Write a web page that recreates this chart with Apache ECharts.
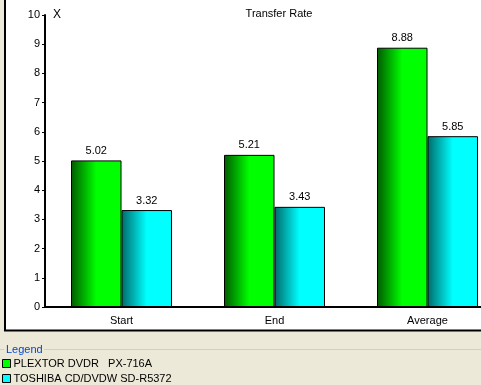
<!DOCTYPE html>
<html><head><meta charset="utf-8">
<script src="https://cdn.jsdelivr.net/npm/echarts@6/dist/echarts.min.js"></script>
<style>html,body{margin:0;padding:0;background:#ECE9D8}#c{width:481px;height:385px}</style>
</head><body><div id="c"></div>
<script>
var categories = ['Start', 'End', 'Average'];
var plextor = [5.02, 5.21, 8.88];
var toshiba = [3.32, 3.43, 5.85];
var seriesNames = ['PLEXTOR DVDR   PX-716A', 'TOSHIBA CD/DVDW SD-R5372'];
var yTicks = [0, 1, 2, 3, 4, 5, 6, 7, 8, 9, 10];

var F = 'Liberation Sans, Arial, sans-serif';
var FS = 11;
function grad(dark, bright) {
  return new echarts.graphic.LinearGradient(0, 0, 1, 0, [
    {offset: 0, color: dark}, {offset: 0.5, color: bright}, {offset: 1, color: bright}
  ]);
}
var chart = echarts.init(document.getElementById('c'), null, {renderer: 'canvas'});
chart.setOption({
  backgroundColor: '#ECE9D8',
  animation: false,
  title: {text: 'Transfer Rate', left: 274, textAlign: 'center', top: 3,
    textStyle: {fontFamily: F, fontSize: 11, fontWeight: 'normal', color: '#000'}},
  graphic: [
    {type: 'rect', z: -10, shape: {x: 5, y: -5, width: 500, height: 335.5},
      style: {fill: '#fff', stroke: '#000', lineWidth: 2}},
    {type: 'text', x: 53, y: 9, style: {text: 'X', font: '12px ' + F, fill: '#000'}},
    {type: 'line', shape: {x1: 0, y1: 349.5, x2: 4, y2: 349.5}, style: {stroke: '#D0D0BF', lineWidth: 1}},
    {type: 'line', shape: {x1: 44, y1: 349.5, x2: 481, y2: 349.5}, style: {stroke: '#D0D0BF', lineWidth: 1}},
    {type: 'text', x: 6, y: 344, style: {text: 'Legend', font: FS + 'px ' + F, fill: '#0046D5'}}
  ],
  legend: {
    orient: 'vertical', left: 2, top: 358, itemWidth: 8, itemHeight: 8, itemGap: 4,
    padding: 0,
    textStyle: {fontFamily: F, fontSize: FS, color: '#000', padding: [0, 0, 0, -2]},
    data: [
      {name: seriesNames[0], icon: 'rect', itemStyle: {color: '#00FF00', borderColor: '#000', borderWidth: 1}},
      {name: seriesNames[1], icon: 'rect', itemStyle: {color: '#00FFFF', borderColor: '#000', borderWidth: 1}}
    ]
  },
  grid: {left: 45, width: 459, top: 15, bottom: 78, containLabel: false, outerBoundsMode: 'none'},
  xAxis: {
    type: 'category', data: categories,
    axisLine: {lineStyle: {color: '#000', width: 2}},
    axisTick: {show: false},
    axisLabel: {fontFamily: F, fontSize: FS, color: '#000', margin: 8}
  },
  yAxis: {
    type: 'value', min: 0, max: 10, interval: 1,
    axisLine: {show: true, lineStyle: {color: '#000', width: 2}},
    axisTick: {show: true, length: 3, lineStyle: {color: '#000'}},
    splitLine: {show: false},
    axisLabel: {fontFamily: F, fontSize: FS, color: '#000', margin: 5,
      formatter: function (v) { return yTicks.indexOf(v) >= 0 ? String(v) : ''; }}
  },
  series: [
    {name: seriesNames[0], type: 'bar', data: plextor, barGap: '0%', barCategoryGap: '34%',
      itemStyle: {color: grad('#005A00', '#00FF00'), borderColor: '#000', borderWidth: 1},
      label: {show: true, position: 'top', distance: 4, fontFamily: F, fontSize: FS, color: '#000',
        formatter: function (p) { return p.value.toFixed(2); }}},
    {name: seriesNames[1], type: 'bar', data: toshiba,
      itemStyle: {color: grad('#006A6A', '#00FFFF'), borderColor: '#000', borderWidth: 1},
      label: {show: true, position: 'top', distance: 4, fontFamily: F, fontSize: FS, color: '#000',
        formatter: function (p) { return p.value.toFixed(2); }}}
  ]
});
</script></body></html>
